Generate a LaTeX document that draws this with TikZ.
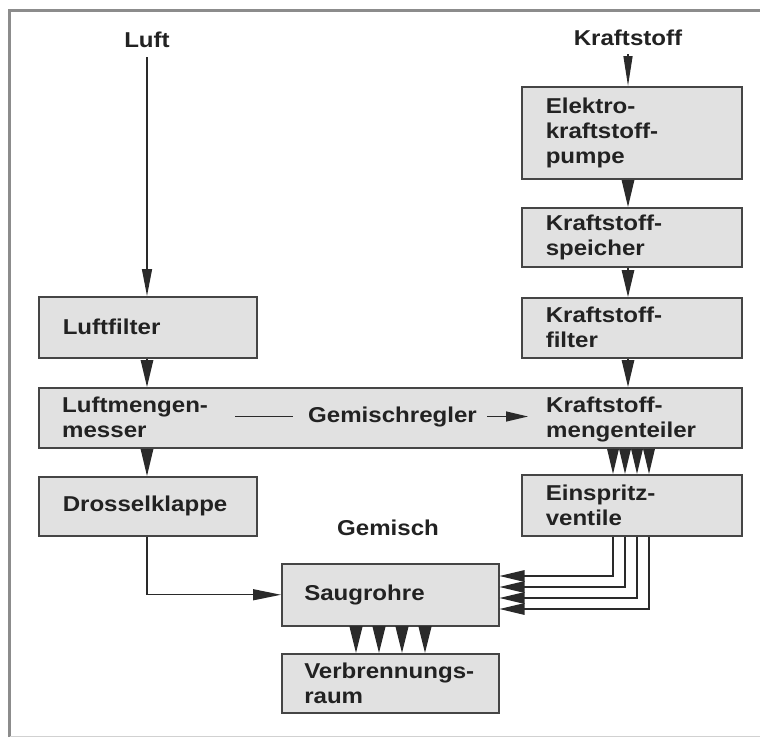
\documentclass[tikz,border=0pt]{standalone}
\usepackage{fontspec}
\newfontfamily\lab{Liberation Sans}[FakeStretch=1.12]
\newcommand\labfont{\lab\bfseries\fontsize{21.5}{25}\selectfont}
\newcommand\nohyph{\hyphenpenalty 10000 \exhyphenpenalty 10000 }
\usetikzlibrary{arrows.meta}
\definecolor{boxfill}{HTML}{E1E1E1}
\definecolor{bord}{HTML}{454545}
\definecolor{lc}{HTML}{2A2A2A}
\definecolor{txt}{HTML}{222222}
\definecolor{framec}{HTML}{8C8C8C}
\begin{document}
\begin{tikzpicture}[x=1pt,y=-1pt,
  lbl/.style={font=\labfont, text=txt, inner sep=0pt, align=left, execute at begin node=\nohyph},
  box/.style={lbl, draw=bord, fill=boxfill, line width=1.5pt, inner xsep=24pt, inner ysep=0pt, anchor=north west, text width=#1},
  box/.default=170pt,
  conn/.style={draw=lc, line width=1.3pt},
  arr/.style={conn, -{Triangle[length=27pt,width=12.5pt]}},
  narr/.style={conn, -{Triangle[length=25pt,width=11.5pt]}},
  framel/.style={draw=framec, line width=2.2pt},
]
\useasboundingbox (0,0) rectangle (760,737);
% frame
\draw[framel] (9.5,737) -- (9.5,10.5) -- (760,10.5);
\draw[draw=framec!40, line width=1pt] (9.5,736) -- (760,736);

\coordinate (lx) at (147,0);
\coordinate (cx) at (628,0);

% titles
\node[lbl, anchor=base] (luft) at (147,47) {Luft};
\node[lbl, anchor=base] (kst) at (628,45) {Kraftstoff};
\node[lbl, anchor=base] (gem) at (388,535) {Gemisch};

% boxes
\node[box, minimum height=61pt] (lf) at (38,296) {Luftfilter};
\node[box=172pt, minimum height=92pt] (elek) at (521,86) {Elektro-\\kraftstoff-\\pumpe};
\node[box=172pt, minimum height=59pt] (spei) at (521,207) {Kraftstoff-\\speicher};
\node[box=172pt, minimum height=60pt] (kfil) at (521,297) {Kraftstoff-\\filter};
\node[box=655pt, minimum height=60pt] (mix) at (38,387) {};
\node[lbl, anchor=west] (lm) at (62,417) {Luftmengen-\\messer};
\node[lbl, anchor=west] (gr) at (308,416.5) {Gemischregler};
\node[lbl, anchor=west] (km) at (546,419) {Kraftstoff-\\mengenteiler};
\node[box, minimum height=59pt] (dros) at (38,476) {Drosselklappe};
\node[box=172pt, minimum height=61pt] (einsp) at (521,474) {Einspritz-\\ventile};
\node[box=172pt, inner xsep=22.5pt, minimum height=62pt] (saug) at (281,563) {Saugrohre};
\node[box=172pt, inner xsep=22.5pt, minimum height=59pt] (verb) at (281,653) {Verbrennungs-\\raum};

% connectors
\draw[arr, -{Triangle[length=27pt,width=10pt]}, shorten <=10pt] (luft.south) -- (lx |- lf.north);
\draw[arr, -{Triangle[length=30pt,width=9pt]}, shorten <=9pt] (kst.south) -- (cx |- elek.north);
\draw[arr] (cx |- elek.south) -- (cx |- spei.north);
\draw[arr] (cx |- spei.south) -- (cx |- kfil.north);
\draw[arr] (cx |- kfil.south) -- (cx |- mix.north);
\draw[arr] (lx |- lf.south) -- (lx |- mix.north);
\draw[arr] (lx |- mix.south) -- (lx |- dros.north);
\draw[conn, shorten <=27pt, shorten >=15pt] (lm.east |- gr.west) -- (gr.west);
\draw[conn, -{Triangle[length=22pt,width=10pt]}, shorten <=10pt, shorten >=18pt] (gr.east) -- (km.west |- gr.east);
\foreach \x in {613,625,637,649}
  \draw[narr] (\x,0 |- mix.south) -- (\x,0 |- einsp.north);
\foreach \x/\y in {613/576,625/587,637/598,649/609}
  \draw[narr] (\x,0 |- einsp.south) |- (saug.east |- 0,\y);
\draw[arr, -{Triangle[length=28pt,width=11pt]}] (lx |- dros.south) |- (saug.west);
\foreach \x in {356,379,402,425}
  \draw[arr, -{Triangle[length=27pt,width=13pt]}] (\x,0 |- saug.south) -- (\x,0 |- verb.north);
\end{tikzpicture}
\end{document}
